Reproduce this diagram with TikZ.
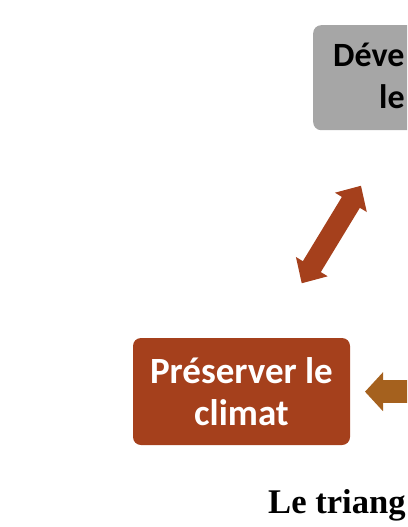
\documentclass[tikz,border=0pt]{standalone}
\usepackage{fontspec}
\setmainfont{Liberation Serif}
\newfontfamily\calib{Carlito}
\usetikzlibrary{positioning,arrows.meta}
\definecolor{brickred}{HTML}{A5401C}
\definecolor{ochre}{HTML}{A5611E}
\definecolor{boxgray}{HTML}{A6A6A6}

\begin{document}
\begin{tikzpicture}[
    x=1pt, y=-1pt,
    box/.style={rounded corners=8pt, inner sep=0pt},
    boxfont/.style={font=\calib\bfseries\fontsize{37}{42}\selectfont},
    grayfont/.style={font=\calib\bfseries\fontsize{34}{41}\selectfont}
]
\useasboundingbox (0,0) rectangle (407,527);
\clip (0,0) rectangle (407,527);

% Top box (cut by the right edge)
\node [box, fill=boxgray, minimum width=200pt, minimum height=105pt, anchor=north west] (devbox) at (313,25) {};
\node [grayfont, anchor=base west, inner sep=0pt] (devline) at (333,66.7) {Déve};
\node [grayfont, anchor=base west, inner sep=0pt] (devle) at (379,108.3) {le};

% Left box
\node [box, fill=brickred, text=white, boxfont, align=center,
       minimum width=217pt, minimum height=107pt] (climat) at (241.5,391.5) {Préserver le\\climat};

% Double arrow between the boxes
\coordinate (climtip) at (301.7,283.3);
\coordinate (devtip) at (361,185.7);
\draw [brickred, line width=21pt,
       {Triangle[length=19.5pt,width=36pt]}-{Triangle[length=19.5pt,width=36pt]}] (climtip) -- (devtip);

% Arrow coming from the right
\coordinate (rightend) at (420,391.7);
\coordinate (rightip) at (365,391.7);
\draw [ochre, line width=23pt, -{Triangle[length=18pt,width=38pt]}] (rightend) -- (rightip);

% Caption
\node [anchor=base west, inner sep=0pt, font=\bfseries\fontsize{34.6}{42}\selectfont] (caption) at (268,513) {Le triang};

\end{tikzpicture}
\end{document}
